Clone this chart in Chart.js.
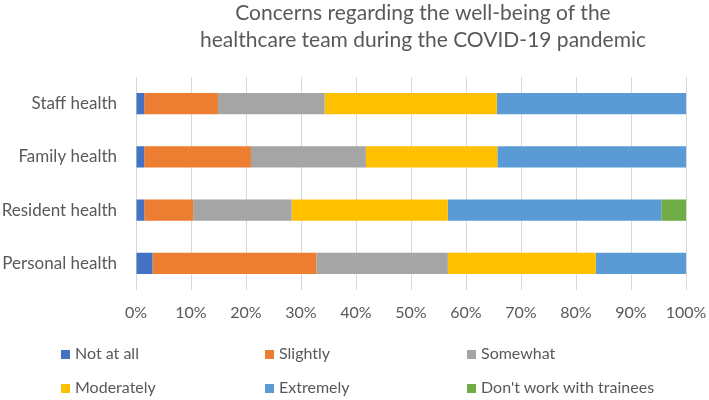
<!DOCTYPE html>
<html>
<head>
<meta charset="utf-8">
<script src="https://cdn.jsdelivr.net/npm/chart.js@4"></script>
<style>
  body { margin: 0; background: #fff; }
  #wrap { position: relative; width: 709px; height: 400px; }
  #legend { position: absolute; left: 61px; top: 341px; width: 609px;
    display: grid; grid-template-columns: 204px 202px 203px; row-gap: 10px;
    font-family: Lato, sans-serif; font-size: 16px; color: #595959; }
  #legend div { height: 24px; line-height: 24px; white-space: nowrap; }
  #legend span { display: inline-block; width: 9px; height: 9px; margin-right: 5px; vertical-align: 0px; }
</style>
</head>
<body>
<div id="wrap">
  <canvas id="myChart" width="709" height="400"></canvas>
  <div id="legend"></div>
</div>
<script>
"use strict";

// categories, top to bottom
const categories = ['Staff health', 'Family health', 'Resident health', 'Personal health'];
const seriesNames = ['Not at all', 'Slightly', 'Somewhat', 'Moderately', 'Extremely', "Don't work with trainees"];
const seriesColors = ['#4472C4', '#ED7D31', '#A5A5A5', '#FFC000', '#5B9BD5', '#70AD47'];

// percent of respondents per category
const notAtAll   = [1.5, 1.5, 1.5, 3.0];
const slightly   = [13.4, 19.4, 8.9, 29.8];
const somewhat   = [19.4, 20.9, 17.9, 23.9];
const moderately = [31.3, 23.9, 28.4, 26.9];
const extremely  = [34.4, 34.3, 38.8, 16.4];
const noTrainees = [0, 0, 4.5, 0];

const xTicks = [0, 10, 20, 30, 40, 50, 60, 70, 80, 90, 100];

const titleLines = ['Concerns regarding the well-being of the', 'healthcare team during the COVID-19 pandemic'];

const allSeries = [notAtAll, slightly, somewhat, moderately, extremely, noTrainees];

// title drawn by hand so it sits where Excel put it
const titlePlugin = {
  id: 'manualTitle',
  afterDraw(chart) {
    const ctx = chart.ctx;
    ctx.save();
    ctx.font = '21px Lato';
    ctx.fillStyle = '#595959';
    ctx.textAlign = 'center';
    ctx.textBaseline = 'alphabetic';
    ctx.fillText(titleLines[0], 423, 20);
    ctx.fillText(titleLines[1], 423, 47);
    ctx.restore();
  }
};

const ctx = document.getElementById('myChart').getContext('2d');
const myChart = new Chart(ctx, {
  type: 'bar',
  data: {
    labels: categories,
    datasets: allSeries.map((vals, i) => ({
      label: seriesNames[i],
      data: vals,
      backgroundColor: seriesColors[i],
      borderWidth: 0,
      categoryPercentage: 1,
      barPercentage: 0.4
    }))
  },
  options: {
    indexAxis: 'y',
    responsive: false,
    animation: false,
    layout: { padding: { top: 77, right: 23, bottom: 60, left: 0 } },
    plugins: {
      legend: { display: false },
      title: { display: false },
      tooltip: { enabled: false }
    },
    scales: {
      x: {
        stacked: true,
        min: 0,
        max: 100,
        afterBuildTicks(scale) { scale.ticks = xTicks.map(v => ({ value: v })); },
        afterFit(scale) {
          scale.height = 50;
          scale.paddingLeft = 0;
          scale.paddingRight = 0;
        },
        grid: { color: '#d9d9d9', lineWidth: 1, drawTicks: false },
        border: { display: false },
        ticks: {
          padding: 13,
          color: '#595959',
          font: { family: 'Lato', size: 16 },
          callback: v => v + '%'
        }
      },
      y: {
        stacked: true,
        afterFit(scale) { scale.width = 136; },
        grid: { display: false, drawTicks: false },
        border: { display: false },
        ticks: {
          padding: 19,
          color: '#595959',
          font: { family: 'Lato', size: 17 }
        }
      }
    }
  },
  plugins: [titlePlugin]
});

// legend laid out in a 3 column grid like the original
const legendBox = document.getElementById('legend');
seriesNames.forEach((name, i) => {
  const item = document.createElement('div');
  item.innerHTML = '<span style="background:' + seriesColors[i] + '"></span>' + name;
  legendBox.appendChild(item);
});
</script>
</body>
</html>
